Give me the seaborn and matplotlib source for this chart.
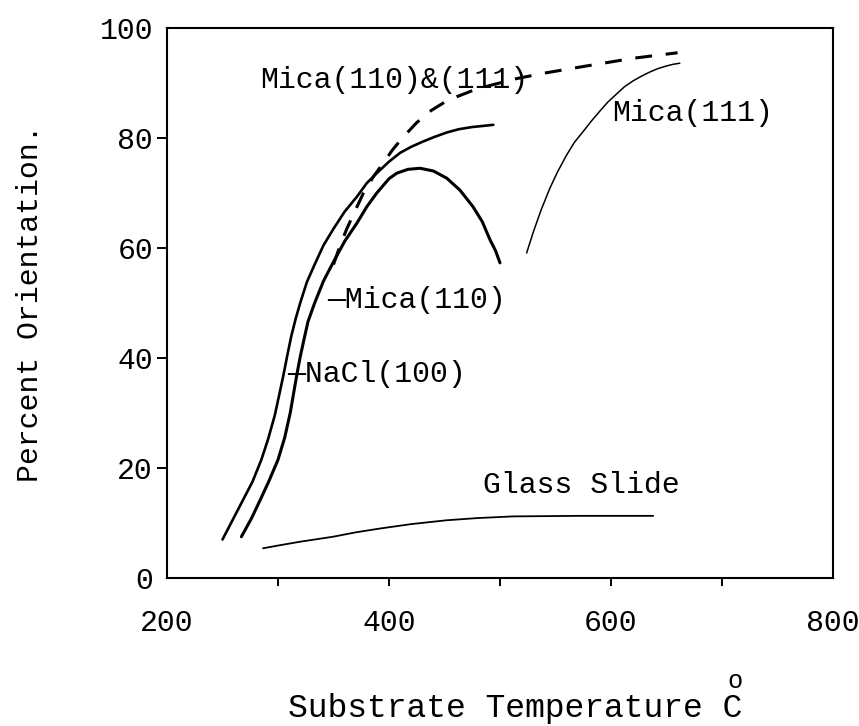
import matplotlib
matplotlib.use("Agg")
import matplotlib.pyplot as plt
import seaborn as sns
import pandas as pd

# ---------------- data ----------------
# solid curve that levels off near 82 % (upper / left of the pair)
curve_a_x = [250, 259, 268, 277, 285, 291, 297, 301, 305, 308.5, 312, 316, 320, 326, 333, 341,
             350, 360, 371, 380, 390, 400, 410, 420, 430, 441, 452, 463, 475, 485, 494]
curve_a_y = [7.0, 10.5, 14.0, 17.5, 21.5, 25.2, 29.5, 33.2, 37.0, 40.6, 44.0, 47.2, 50.0, 53.8, 57.0, 60.5,
             63.5, 66.6, 69.3, 71.8, 73.8, 75.7, 77.3, 78.4, 79.3, 80.2, 81.0, 81.6, 82.0, 82.2, 82.4]

# solid curve that peaks near 74 % and falls to 57 %
curve_b_x = [267, 276, 284, 292, 300, 306, 311, 314, 317, 320, 323, 327, 333, 341, 349.5, 360,
             371, 380, 389, 400, 407, 417, 428, 440, 452, 464, 475.7, 484, 491, 496, 500]
curve_b_y = [7.5, 10.8, 14.2, 17.7, 21.5, 25.5, 30.0, 33.5, 37.0, 40.2, 43.0, 46.6, 50.0, 54.0, 57.3, 61.2,
             64.5, 67.5, 70.0, 72.6, 73.6, 74.3, 74.5, 74.0, 72.7, 70.5, 67.5, 64.8, 61.5, 59.5, 57.3]

# dashed Mica(110)&(111)
mica_both_x = [350, 356, 362, 370, 377, 386, 395, 403, 412, 425, 438, 450, 461, 475, 490, 515,
               540, 575, 620, 660]
mica_both_y = [57.0, 60.5, 63.5, 67.0, 70.0, 73.0, 75.5, 77.8, 80.0, 82.8, 85.0, 86.5, 87.5, 88.6, 89.5, 90.8,
               91.8, 93.0, 94.5, 95.5]

# thin Mica(111)
mica111_x = [524, 530, 537, 545, 552, 560, 567, 575, 582, 590, 597, 605, 612, 620, 628, 635, 642, 650, 656, 662]
mica111_y = [59.1, 62.9, 66.9, 70.9, 73.9, 76.9, 79.2, 81.2, 83.0, 84.9, 86.5, 88.0, 89.3, 90.4, 91.3, 92.0,
             92.6, 93.1, 93.4, 93.6]

# Glass slide
glass_x = [286.5, 300, 320, 349.5, 370, 392, 420, 452, 480, 512, 572, 638]
glass_y = [5.4, 5.9, 6.6, 7.5, 8.3, 9.0, 9.8, 10.5, 10.9, 11.2, 11.3, 11.3]

x_tick_values = [200, 400, 600, 800]
x_tick_labels = ["200", "400", "600", "800"]
x_tick_marks = [300, 400, 500, 600, 700]
y_tick_values = [0, 20, 40, 60, 80, 100]
y_tick_labels = ["0", "20", "40", "60", "80", "100"]
y_tick_marks = [20, 40, 60, 80]

labels_text = ["Mica(110)&(111)", "Mica(111)", "\u2014Mica(110)", "\u2014NaCl(100)", "Glass Slide"]
labels_x = [283.8, 600.9, 344, 308, 484.7]
labels_y = [90.5, 84.5, 50.5, 37.1, 16.9]

# ---------------- styling ----------------
sns.set_theme(style="ticks")
plt.rcParams['font.family'] = ['Liberation Mono', 'DejaVu Sans Mono', 'DejaVu Sans']
plt.rcParams['text.color'] = 'black'
plt.rcParams['axes.labelcolor'] = 'black'
plt.rcParams['xtick.color'] = 'black'
plt.rcParams['ytick.color'] = 'black'

FS = 21.5

fig = plt.figure(figsize=(8.59, 7.26), dpi=100)
fig.patch.set_facecolor('white')
ax = fig.add_axes([167 / 859, 148 / 726, 666 / 859, 550 / 726])
ax.set_facecolor('white')

def draw(xs, ys, **kw):
    df = pd.DataFrame({"x": xs, "y": ys})
    sns.lineplot(data=df, x="x", y="y", ax=ax, estimator=None, sort=False,
                 color="black", legend=False, **kw)

draw(curve_a_x, curve_a_y, linewidth=1.9, solid_joinstyle='round')
draw(curve_b_x, curve_b_y, linewidth=2.2, solid_joinstyle='round')
draw(mica_both_x, mica_both_y, linewidth=2.2, linestyle=(0, (5.5, 4.5)))
draw(mica111_x, mica111_y, linewidth=1.1, solid_joinstyle='round')
draw(glass_x, glass_y, linewidth=1.3, solid_joinstyle='round')

ax.set_xlim(200, 800)
ax.set_ylim(0, 100)

# label ticks (no marks) and mark ticks (no labels)
ax.xaxis.remove_overlapping_locs = False
ax.yaxis.remove_overlapping_locs = False
ax.set_xticks(x_tick_values)
ax.set_xticklabels(x_tick_labels)
ax.set_xticks(x_tick_marks, minor=True)
ax.set_yticks(y_tick_values)
ax.set_yticklabels(y_tick_labels)
ax.set_yticks(y_tick_marks, minor=True)
ax.tick_params(axis='x', which='major', length=0, pad=22, labelsize=FS)
ax.tick_params(axis='y', which='major', length=0, pad=10, labelsize=FS)
ax.tick_params(axis='x', which='minor', length=6, width=1.4, direction='out')
ax.tick_params(axis='y', which='minor', length=7, width=1.4, direction='out')

for s in ax.spines.values():
    s.set_visible(True)
    s.set_linewidth(1.5)
    s.set_color('black')

ax.set_xlabel("Substrate Temperature C", fontsize=23.8)
ax.set_ylabel("Percent Orientation.", fontsize=FS)
ax.xaxis.set_label_coords((515 - 167) / 666, (578 - 708) / 550)
ax.xaxis.label.set_va('center')
ax.yaxis.set_label_coords((30 - 167) / 666, 0.5)
ax.yaxis.label.set_va('center')
ax.text((735 - 167) / 666, (578 - 681) / 550, "o", transform=ax.transAxes,
        fontsize=FS * 0.85, ha='center', va='center')

for t, xx, yy in zip(labels_text, labels_x, labels_y):
    ax.text(xx, yy, t, fontsize=FS, ha='left', va='center')

fig.savefig("out.png", dpi=100, facecolor='white')
